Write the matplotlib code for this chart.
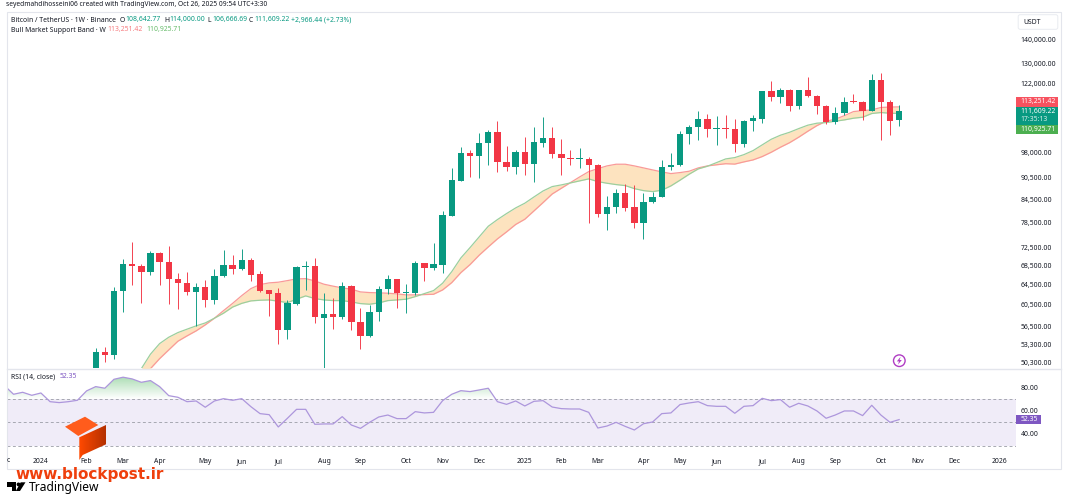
import numpy as np
from matplotlib import pyplot as plt
from matplotlib.colors import LinearSegmentedColormap
from matplotlib.patches import Circle, FancyBboxPatch, Polygon, Rectangle
from matplotlib.path import Path

plt.rcParams['font.family'] = ['Noto Sans', 'DejaVu Sans']

UP = '#089981'
DOWN = '#f23645'
TEXT = '#131722'
FONT = 4.9

# weekly candles, first one is the week of late January 2024
opens = [49000, 52090, 51650, 63140, 68920, 68420, 67130, 71290, 69300, 65710,
	64890, 63000, 64010, 61420, 66200, 68570, 67700, 69720, 66700, 63300,
	62700, 55800, 60700, 68200, 68350, 58000, 58760, 58260, 64280, 57340,
	54800, 59130, 63540, 65580, 62740, 62740, 69070, 67980, 68700, 80200,
	89600, 97780, 96950, 101020, 104500, 95130, 93640, 98290, 94530, 101000,
	102650, 97500, 96400, 96000, 96150, 94230, 80600, 82480, 86150, 82400,
	78330, 83800, 85120, 93730, 94230, 104050, 106390, 109010, 105610, 105850,
	105510, 100790, 108430, 108900, 119000, 117000, 119350, 113650, 119350, 117350,
	113600, 107900, 111100, 115250, 115100, 111900, 123330, 114900, 108642.77]
highs = [52800, 52960, 64070, 69940, 73820, 68850, 71740, 71400, 72900, 66850,
	67190, 64770, 65440, 67700, 71970, 70770, 72130, 70090, 67280, 63400,
	63800, 61360, 68350, 69500, 70090, 62740, 61820, 64970, 64420, 59810,
	60510, 64220, 66490, 65600, 64560, 69440, 69100, 73590, 81440, 93240,
	99660, 98810, 104180, 105280, 108430, 100060, 98810, 102880, 106390, 109570,
	106390, 102320, 98810, 99540, 96650, 94430, 85410, 87400, 88640, 88530,
	86150, 86580, 95730, 97780, 104950, 106870, 111810, 110770, 110040, 110400,
	108900, 108670, 110400, 119200, 123050, 120100, 119700, 119470, 124400, 117600,
	113800, 113300, 116700, 117800, 115500, 125700, 126100, 115750, 114000]
lows = [48500, 50500, 50890, 59070, 64480, 60900, 66430, 64480, 60700, 59630,
	62470, 56570, 60130, 60650, 66140, 66700, 67550, 65170, 63000, 58390,
	53480, 54280, 60510, 63400, 57100, 49000, 56080, 57830, 55850, 52590,
	54680, 57520, 62610, 59810, 59000, 62410, 65240, 67550, 66850, 80200,
	89570, 90690, 90510, 94130, 92250, 92540, 91580, 91290, 89290, 99660,
	96250, 91290, 94230, 93430, 78330, 79990, 76680, 81010, 81520, 77170,
	74520, 83540, 85050, 92740, 94030, 100700, 101990, 103050, 100400, 102550,
	98290, 99660, 105050, 107550, 115500, 114800, 111900, 112600, 116700, 110600,
	107300, 107300, 110400, 114500, 108670, 111700, 101990, 103630, 106666.69]
closes = [52090, 51650, 63140, 68920, 68350, 67130, 71290, 69220, 65650, 64890,
	63000, 64010, 61420, 66280, 68570, 67700, 69720, 66560, 63140, 62610,
	55800, 60840, 68200, 68350, 58150, 58760, 58260, 64280, 57230, 54800,
	59130, 63540, 65580, 62740, 63000, 69070, 67980, 68850, 80350, 89850,
	97780, 96950, 101020, 104500, 95130, 93640, 98290, 94530, 101230, 102650,
	97500, 96250, 95940, 96250, 94230, 80600, 82480, 86150, 82300, 78330,
	83800, 85120, 93730, 94230, 104050, 106390, 109010, 105610, 105850, 105510,
	100790, 108430, 109260, 119100, 117000, 119350, 113650, 119350, 117200, 113500,
	107900, 111100, 115100, 114900, 111900, 123330, 114900, 108430, 111609.22]

# support band, both lines start at the sixth candle
band_start = 5
band_ema = [49400, 51720, 53480, 54570, 55380, 55980, 56570, 57100, 57960, 58890,
	60050, 60760, 61230, 61360, 61420, 61170, 60900, 61560, 62210, 61680,
	61420, 61290, 61290, 61040, 60710, 60590, 60840, 61290, 61420, 61560,
	62070, 62670, 63260, 64770, 67190, 70170, 72500, 75000, 77580, 79230,
	80760, 82220, 83460, 85120, 86760, 87970, 88440, 89000, 89570, 90140,
	89370, 88910, 88530, 88250, 87400, 86850, 86580, 86960, 88160, 89770,
	91490, 93040, 93830, 94920, 96030, 96440, 97350, 98600, 100400, 102220,
	103530, 104500, 105720, 106870, 107550, 107760, 108230, 108670, 109260, 109600,
	110900, 111240, 111000, 110925.71]
band_sma = [48800, 49400, 50990, 52420, 53880, 54800, 55680, 56750, 57960, 59370,
	60760, 62270, 63670, 64480, 64830, 64970, 65300, 65650, 65710, 65240,
	64560, 64160, 63810, 63540, 63000, 62870, 62810, 62740, 62610, 62410,
	62410, 62470, 62530, 63400, 64890, 66980, 68700, 70770, 72660, 74530,
	76200, 78020, 79320, 81440, 83620, 85930, 87500, 89090, 90690, 92240,
	93120, 93930, 94430, 94430, 93930, 93340, 92740, 92170, 91670, 91960,
	92360, 93340, 93930, 94260, 94580, 94470, 95130, 95730, 96750, 98100,
	99660, 101100, 102880, 104840, 106730, 108230, 108900, 110150, 111580, 111920,
	112170, 113040, 113190, 113251.42]

# the RSI pane starts ten weeks before the first candle
rsi_start = -10
rsi = [81.7, 74.2, 75.9, 73.3, 75.3, 67.8, 67.0, 67.8, 69.0, 77.1,
	80.8, 79.4, 87.1, 88.9, 87.4, 84.5, 86.0, 80.8, 73.0, 71.6,
	67.8, 68.4, 63.0, 68.4, 70.4, 69.0, 70.4, 63.5, 57.5, 56.6,
	46.0, 53.5, 61.2, 61.2, 48.3, 48.6, 48.6, 54.9, 47.7, 44.8,
	50.0, 54.6, 56.3, 53.2, 53.2, 59.2, 58.1, 58.6, 68.7, 74.2,
	77.3, 76.5, 77.9, 79.4, 67.8, 65.5, 68.4, 64.1, 68.1, 68.7,
	63.2, 61.8, 61.5, 61.5, 58.6, 45.1, 46.8, 50.0, 46.5, 43.4,
	48.8, 50.3, 57.5, 58.1, 65.3, 66.7, 67.8, 64.4, 63.8, 63.8,
	57.8, 63.8, 64.4, 70.7, 68.7, 69.6, 63.0, 66.4, 64.1, 59.8,
	53.5, 56.3, 59.8, 59.8, 55.8, 64.7, 56.3, 50.0, 52.35]

price_ticks = [140000, 130000, 122000, 98000, 90500, 84500, 78500, 72500, 68500,
	64500, 60500, 56500, 53300, 50300]
rsi_ticks = [80, 60, 40]
month_pos = [-6, -1, 3, 7, 12, 16, 20, 25, 29, 34, 38, 42, 47, 51, 55, 60, 64, 68,
	73, 77, 81, 86, 90, 94, 99]
month_names = ['2024', 'Feb', 'Mar', 'Apr', 'May', 'Jun', 'Jul', 'Aug', 'Sep', 'Oct',
	'Nov', 'Dec', '2025', 'Feb', 'Mar', 'Apr', 'May', 'Jun', 'Jul', 'Aug', 'Sep',
	'Oct', 'Nov', 'Dec', '2026']

W, H = 1066, 500
X_LIM = (-9.715, 100.8)


def pixel_axes(fig, left, top, right, bottom):
	return fig.add_axes([left / W, 1 - bottom / H, (right - left) / W, (bottom - top) / H])


def draw_candles(ax):
	x = np.arange(len(opens))
	o, h, l, c = [np.array(a, dtype=float) for a in (opens, highs, lows, closes)]
	colors = [UP if c[i] >= o[i] else DOWN for i in x]
	ax.vlines(x, l, h, colors=colors, lw=0.65, zorder=3)
	ax.bar(x, np.abs(c - o), bottom=np.minimum(o, c), width=0.7, color=colors, zorder=4)


def draw_price_pane(ax):
	x = np.arange(band_start, band_start + len(band_ema))
	ax.fill_between(x, band_ema, band_sma, color='#fde3bf', lw=0, zorder=1)
	ax.plot(x, band_sma, color='#f99a98', lw=0.9, zorder=2)
	ax.plot(x, band_ema, color='#9ccf9e', lw=0.9, zorder=2)
	draw_candles(ax)
	ax.set_yscale('log')
	ax.set_ylim(49500, 152990)
	ax.set_xlim(*X_LIM)
	ax.set_xticks([])
	ax.yaxis.tick_right()
	ax.set_yticks(price_ticks)
	ax.set_yticklabels([f'{p:,.2f}' for p in price_ticks])
	ax.minorticks_off()
	ax.tick_params(axis='y', length=0, pad=3.4, labelsize=FONT, labelcolor=TEXT)
	for s in ax.spines.values():
		s.set_visible(False)


def draw_rsi_pane(ax):
	x = np.arange(rsi_start, rsi_start + len(rsi))
	y = np.array(rsi)
	ax.set_xlim(*X_LIM)
	ax.set_ylim(22.7, 96.4)
	ax.axhspan(30, 70, color='#7e57c2', alpha=0.11, lw=0, zorder=1)
	for level in (70, 50, 30):
		ax.axhline(level, color='#9a9ca6', lw=0.6, dashes=(3.5, 3), zorder=2)
	# green fade over the part of the line above 70
	region = ax.fill_between(x, y, 70, where=y >= 70, interpolate=True, color='none', lw=0)
	fade = LinearSegmentedColormap.from_list('fade', ['#ffffff', '#8fd19a'])
	img = ax.imshow(np.linspace(0.75, 0, 64).reshape(-1, 1), cmap=fade, vmin=0, vmax=1,
		extent=(X_LIM[0], X_LIM[1], 70, 89), aspect='auto', zorder=1.5)
	img.set_clip_path(Path.make_compound_path(*region.get_paths()), transform=ax.transData)
	ax.plot(x, y, color='#ad96dc', lw=0.9, zorder=3)
	ax.set_xlim(*X_LIM)
	ax.set_ylim(22.7, 96.4)
	ax.yaxis.tick_right()
	ax.set_yticks(rsi_ticks)
	ax.set_yticklabels([f'{v:.2f}' for v in rsi_ticks])
	ax.tick_params(axis='y', length=0, pad=3.4, labelsize=FONT, labelcolor=TEXT)
	ax.set_xticks(month_pos)
	ax.set_xticklabels(month_names)
	ax.tick_params(axis='x', length=0, pad=3.2, labelsize=FONT, labelcolor=TEXT)
	for lab in ax.get_xticklabels():
		if lab.get_text().isdigit():
			lab.set_fontweight('bold')
	for s in ax.spines.values():
		s.set_visible(False)


def draw_overlay(ov):
	# frame around the chart
	ov.add_patch(Rectangle((6.5, 12), 1054.5, 457, fill=False, ec='#e3e5ec', lw=0.8))
	ov.plot([6.5, 1061], [368.5, 368.5], color='#e3e5ec', lw=1)

	def label(x, y, s, color=TEXT, size=FONT, **kw):
		ov.text(x, y, s, color=color, fontsize=size, va='center', ha='left', **kw)

	label(6, 5, 'seyedmahdihosseini06 created with TradingView.com, Oct 26, 2025 09:54 UTC+3:30', size=4.8)
	label(11, 20, 'Bitcoin / TetherUS · 1W · Binance')
	for x, head, val in [(120, 'O', '108,642.77'), (164, 'H', '114,000.00'),
			(207, 'L', '106,666.69'), (249, 'C', '111,609.22')]:
		label(x, 20, head)
		label(x + 5, 20, val, color=UP)
	label(291, 20, '+2,966.44 (+2.73%)', color=UP)
	label(11, 30, 'Bull Market Support Band · W')
	label(107, 30, '113,251.42', color='#f77c80')
	label(146, 30, '110,925.71', color='#66bb6a')
	label(11, 377, 'RSI (14, close)')
	label(60, 377, '52.35', color='#7e57c2')
	label(7, 461, 'c')

	# currency box and last value tags
	ov.add_patch(FancyBboxPatch((1019, 15.5), 38, 13, boxstyle='round,pad=0.8,rounding_size=2',
		fill=False, ec='#e9ebf0', lw=0.7))
	label(1023, 22, 'USDT')
	ov.add_patch(Rectangle((1016, 97.3), 42, 9.4, color='#f7525f', lw=0))
	ov.add_patch(Rectangle((1016, 106.7), 42, 18.3, color=UP, lw=0))
	ov.add_patch(Rectangle((1016, 125), 42, 9, color='#4caf50', lw=0))
	ov.add_patch(Rectangle((1016, 415), 25, 9, color='#7e57c2', lw=0))
	label(1020.7, 101.7, '113,251.42', color='white', fontweight='medium')
	label(1020.7, 111, '111,609.22', color='white', fontweight='medium')
	label(1020.7, 119.5, '17:35:13', color='#d7eee9')
	label(1020.7, 129.5, '110,925.71', color='white', fontweight='medium')
	label(1020.7, 419.5, '52.35', color='white', fontweight='medium')

	# news bolt
	ov.add_patch(Circle((899.3, 360.7), 5.8, fc='white', ec='#b03dc4', lw=1.0))
	ov.add_patch(Polygon([(900.6, 356.8), (896.8, 361.4), (899, 361.4), (898, 364.6), (901.8, 360), (899.6, 360)],
		color='#b03dc4', lw=0))

	# site mark
	top = Polygon([(65, 426.7), (85, 416.7), (98.3, 425), (78.3, 436)], color='#ff5c1c', lw=0, zorder=5)
	ov.add_patch(top)
	slab = Polygon([(79.3, 437.3), (106, 425), (106, 444.3), (82.7, 455), (79.3, 460)], fc='none', lw=0, zorder=5)
	ov.add_patch(slab)
	heat = LinearSegmentedColormap.from_list('heat', ['#ff4a00', '#b53000'])
	img = ov.imshow(np.linspace(0, 1, 32).reshape(1, -1), cmap=heat, extent=(79, 106, 460, 425),
		aspect='auto', zorder=5)
	img.set_clip_path(slab)
	ov.text(15, 474.5, 'www.blockpost.ir', color='#ef3f0c', fontsize=11, fontweight='bold',
		family='DejaVu Sans', va='center', ha='left')

	# TradingView mark and name
	ov.add_patch(Polygon([(7, 482.3), (16, 482.3), (16, 491), (11.5, 491), (11.5, 486.5), (7, 486.5)],
		color='black', lw=0))
	ov.add_patch(Circle((18.5, 484.4), 1.9, color='black', lw=0))
	ov.add_patch(Polygon([(20.7, 482.3), (25.5, 482.3), (20, 491), (15.8, 491)], color='black', lw=0))
	ov.text(29, 487.2, 'TradingView', color='black', fontsize=8.7, fontweight='semibold',
		va='center', ha='left')
	ov.set_xlim(0, W)
	ov.set_ylim(H, 0)


def main():
	fig = plt.figure(figsize=(W / 100, H / 100), dpi=100)
	price_ax = pixel_axes(fig, 7, 12, 1016, 368)
	rsi_ax = pixel_axes(fig, 7, 368.5, 1016, 454)
	ov = fig.add_axes([0, 0, 1, 1], zorder=10)
	ov.patch.set_alpha(0)
	ov.axis('off')
	draw_price_pane(price_ax)
	draw_rsi_pane(rsi_ax)
	draw_overlay(ov)
	fig.savefig('out.png', dpi=100)
	plt.close(fig)


if __name__ == '__main__':
	main()
